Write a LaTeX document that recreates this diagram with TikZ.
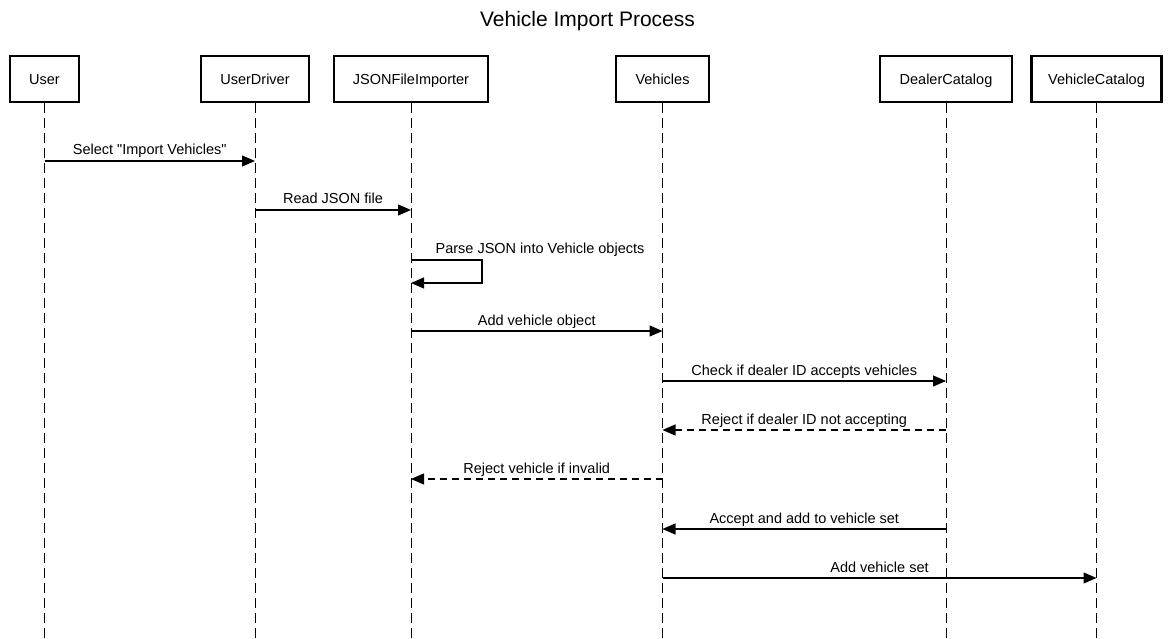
\documentclass[tikz,border=0pt]{standalone}
\usepackage{fontspec}
\setmainfont{Liberation Sans}[Ligatures=TeXOff]
\usetikzlibrary{arrows.meta,positioning,calc}

\tikzset{
  actor/.style={draw,line width=2.6pt,fill=white,minimum height=46pt,inner sep=0pt,
    text height=10.4pt,text depth=0pt,font=\fontsize{14.5}{17}\selectfont},
  lifeline/.style={line width=1pt,dash pattern=on 10pt off 5pt},
  msg/.style={line width=1.1pt,-{Triangle[length=13pt,width=11pt]}},
  reply/.style={msg,dash pattern=on 7pt off 5pt},
  lbl/.style={anchor=base,yshift=6pt,inner sep=0pt,font=\fontsize{14.5}{17}\selectfont},
}

\begin{document}
\begin{tikzpicture}[x=1pt,y=-1pt,on grid]
    \useasboundingbox (0,0) rectangle (1175,639);
    \node[font=\fontsize{21}{25}\selectfont] (title) at (587.5,21) {Vehicle Import Process};
    % participants
    \node[actor,minimum width=69pt]  (user)     at (44.5,79)          {User};
    \node[actor,minimum width=108pt] (driver)   [right=210.5pt of user]   {UserDriver};
    \node[actor,minimum width=154pt] (importer) [right=156pt of driver]   {JSONFileImporter};
    \node[actor,minimum width=93pt]  (vehicles) [right=251.5pt of importer] {Vehicles};
    \node[actor,minimum width=132pt] (dealer)   [right=283.5pt of vehicles] {DealerCatalog};
    \node[actor,minimum width=130pt] (vcatalog) [right=150.5pt of dealer]   {VehicleCatalog};
    % lifelines
    \coordinate (bottom) at (0,639);
    \foreach \n in {user,driver,importer,vehicles,dealer,vcatalog}
      \draw[lifeline] (\n.south) -- (\n.south |- bottom);
    % message rows
    \path (0,161) coordinate (r1) (0,210) coordinate (r2)
          (0,260) coordinate (r3) (0,283) coordinate (r4)
          (0,331) coordinate (r5) (0,381) coordinate (r6)
          (0,430) coordinate (r7) (0,479) coordinate (r8)
          (0,529) coordinate (r9) (0,578) coordinate (r10);
    % messages
    \draw[msg] (user |- r1) -- node[lbl] {Select "Import Vehicles"} (driver |- r1);
    \draw[msg] (driver |- r2) -- node[lbl] {Read JSON file} (importer |- r2);
    \draw[msg] (importer |- r3) -- ++(71,0) |- (importer |- r4);
    \node[lbl] (parse) at ($(importer |- r3)+(129,0)$) {Parse JSON into Vehicle objects};
    \draw[msg] (importer |- r5) -- node[lbl] {Add vehicle object} (vehicles |- r5);
    \draw[msg] (vehicles |- r6) -- node[lbl] {Check if dealer ID accepts vehicles} (dealer |- r6);
    \draw[reply] (dealer |- r7) -- node[lbl] {Reject if dealer ID not accepting} (vehicles |- r7);
    \draw[reply] (vehicles |- r8) -- node[lbl] {Reject vehicle if invalid} (importer |- r8);
    \draw[msg] (dealer |- r9) -- node[lbl] {Accept and add to vehicle set} (vehicles |- r9);
    \draw[msg] (vehicles |- r10) -- node[lbl] {Add vehicle set} (vcatalog |- r10);
\end{tikzpicture}
\end{document}
